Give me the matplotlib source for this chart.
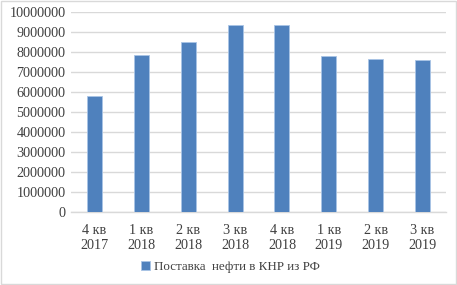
import matplotlib.pyplot as plt
from matplotlib.patches import Rectangle

quarters = ['4 кв\n2017', '1 кв\n2018', '2 кв\n2018', '3 кв\n2018',
            '4 кв\n2018', '1 кв\n2019', '2 кв\n2019', '3 кв\n2019']
supply = [5810000, 7870000, 8540000, 9390000, 9370000, 7840000, 7660000, 7620000]
yticks = [0, 1000000, 2000000, 3000000, 4000000, 5000000,
          6000000, 7000000, 8000000, 9000000, 10000000]

plt.rcParams['font.family'] = ['Liberation Serif', 'DejaVu Serif']

fig = plt.figure(figsize=(4.57, 2.85), dpi=100)
ax = fig.add_axes([0.1554, 0.2544, 0.8206, 0.7018])

x = range(len(quarters))
ax.bar(x, supply, width=0.32, color='#4f81bd', edgecolor='#a9c4e6', linewidth=0.6,
       label='Поставка  нефти в КНР из РФ', zorder=3)

ax.set_xlim(-0.5, len(quarters) - 0.5)
ax.set_ylim(0, 10000000)
ax.set_yticks(yticks)
ax.set_yticklabels([str(v) for v in yticks])
ax.set_xticks(list(x))
ax.set_xticklabels(quarters, linespacing=1.2)
ax.tick_params(axis='both', length=0, labelsize=10.2, colors='#404040')
ax.tick_params(axis='x', pad=8)
ax.tick_params(axis='y', pad=4)
ax.grid(axis='y', color='#d9d9d9', linewidth=1, zorder=0)
for s in ['top', 'right', 'left']:
    ax.spines[s].set_visible(False)
ax.spines['bottom'].set_color('#d9d9d9')
ax.spines['bottom'].set_linewidth(1)

ax.legend(loc='center', bbox_to_anchor=(0.504, 0.063), bbox_transform=fig.transFigure,
          frameon=False, fontsize=9.4, handlelength=0.7, handleheight=0.7,
          handletextpad=0.3, labelcolor='#404040')

fig.patches.append(Rectangle((0.002, 0.003), 0.995, 0.994, transform=fig.transFigure,
                             fill=False, edgecolor='#d9d9d9', linewidth=1))

fig.savefig('out.png', dpi=100)
